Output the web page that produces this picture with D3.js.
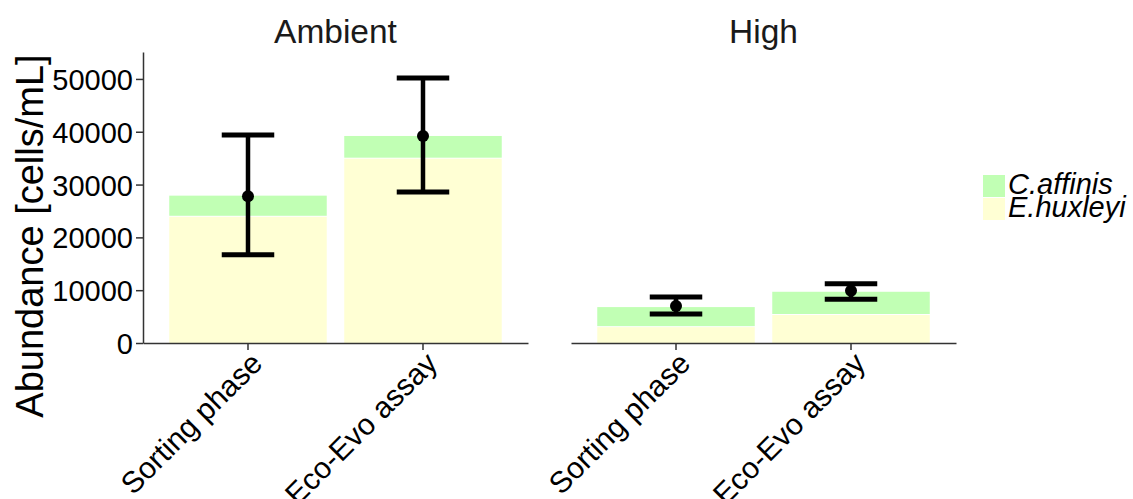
<!DOCTYPE html>
<html>
<head>
<meta charset="utf-8">
<script src="https://cdn.jsdelivr.net/npm/d3@7"></script>
<style>
  body { margin: 0; background: #fff; }
  svg { display: block; font-family: "Liberation Sans", Arial, sans-serif; }
</style>
</head>
<body>
<div class="wrapper"></div>
<script>
const width = 1133;
const height = 499;

// data
const conditions = ["Ambient", "High"];
const phases = ["Sorting phase", "Eco-Evo assay"];
const species = ["C.affinis", "E.huxleyi"];
const ehuxley = [23900, 34900, 3000, 5300];
const caffinis = [4000, 4300, 3800, 4400];
const meanTotal = [27800, 39200, 7000, 9900];
const lowerTotal = [16700, 28600, 5500, 8300];
const upperTotal = [39400, 50200, 8700, 11200];
const yTicks = [0, 10000, 20000, 30000, 40000, 50000];

const colors = { "C.affinis": "#c1ffb4", "E.huxleyi": "#ffffd4" };

const rows = [];
conditions.forEach((cond, i) => {
  phases.forEach((phase, j) => {
    const k = i * phases.length + j;
    rows.push({
      cond, phase,
      ehux: ehuxley[k], caff: caffinis[k],
      mean: meanTotal[k], lo: lowerTotal[k], hi: upperTotal[k]
    });
  });
});

const svg = d3.select(".wrapper")
  .append("svg")
  .attr("width", width)
  .attr("height", height);

const panel = d3.scaleBand()
  .domain(conditions)
  .range([143, 956])
  .paddingInner(0.1005)
  .paddingOuter(0);

const y = d3.scaleLinear().domain([0, 55100]).range([343, 52]);

const axisColor = "#333";

conditions.forEach((cond) => {
  const x0 = panel(cond);
  const x = d3.scaleBand()
    .domain(phases)
    .range([x0, x0 + panel.bandwidth()])
    .paddingInner(0.1)
    .paddingOuter(0.15);

  const g = svg.append("g");
  const data = rows.filter((r) => r.cond === cond);

  // stacked bars: E.huxleyi bottom, C.affinis on top
  g.selectAll(".ehux")
    .data(data)
    .join("rect")
    .attr("x", (d) => x(d.phase))
    .attr("width", x.bandwidth())
    .attr("y", (d) => y(d.ehux))
    .attr("height", (d) => y(0) - y(d.ehux))
    .attr("fill", colors["E.huxleyi"]);

  g.selectAll(".caff")
    .data(data)
    .join("rect")
    .attr("x", (d) => x(d.phase))
    .attr("width", x.bandwidth())
    .attr("y", (d) => y(d.ehux + d.caff))
    .attr("height", (d) => y(d.ehux) - y(d.ehux + d.caff) - 1)
    .attr("fill", colors["C.affinis"]);

  // error bars
  const cx = (d) => x(d.phase) + x.bandwidth() / 2;
  const capHalf = x.step() * 0.15;
  const eb = g.selectAll(".eb").data(data).join("g");
  eb.append("line")
    .attr("x1", cx).attr("x2", cx)
    .attr("y1", (d) => y(d.lo)).attr("y2", (d) => y(d.hi))
    .attr("stroke", "#000").attr("stroke-width", 4.5);
  eb.append("line")
    .attr("x1", (d) => cx(d) - capHalf).attr("x2", (d) => cx(d) + capHalf)
    .attr("y1", (d) => y(d.hi)).attr("y2", (d) => y(d.hi))
    .attr("stroke", "#000").attr("stroke-width", 5);
  eb.append("line")
    .attr("x1", (d) => cx(d) - capHalf).attr("x2", (d) => cx(d) + capHalf)
    .attr("y1", (d) => y(d.lo)).attr("y2", (d) => y(d.lo))
    .attr("stroke", "#000").attr("stroke-width", 5);
  eb.append("circle")
    .attr("cx", cx).attr("cy", (d) => y(d.mean))
    .attr("r", 6).attr("fill", "#000");

  // x axis
  const xAxis = g.append("g")
    .attr("transform", `translate(0,${y(0)})`)
    .call(d3.axisBottom(x).tickSize(7).tickSizeOuter(0));
  xAxis.select(".domain").attr("stroke", axisColor).attr("stroke-width", 1.5);
  xAxis.selectAll(".tick line").attr("stroke", axisColor).attr("stroke-width", 1.5);
  xAxis.selectAll(".tick text")
    .attr("font-size", 30)
    .attr("fill", "#000")
    .attr("text-anchor", "end")
    .attr("dy", 0)
    .attr("transform", "translate(9,15) rotate(-45)");

  // facet title
  svg.append("text")
    .attr("x", x0 + panel.bandwidth() / 2)
    .attr("y", 43)
    .attr("text-anchor", "middle")
    .attr("font-size", 33.5)
    .attr("fill", "#1a1a1a")
    .text(cond);
});

// y axis (first panel only)
const yAxis = svg.append("g")
  .attr("transform", `translate(${panel(conditions[0])},0)`)
  .call(d3.axisLeft(y).tickValues(yTicks).tickFormat(d3.format("d")).tickSize(7).tickSizeOuter(0));
yAxis.select(".domain").attr("stroke", axisColor).attr("stroke-width", 1.5);
yAxis.selectAll(".tick line").attr("stroke", axisColor).attr("stroke-width", 1.5);
yAxis.selectAll(".tick text")
  .attr("font-size", 29)
  .attr("fill", "#000")
  .attr("x", -10)
  .attr("dy", "0.36em");

svg.append("text")
  .attr("transform", `translate(43,236) rotate(-90)`)
  .attr("text-anchor", "middle")
  .attr("font-size", 38)
  .attr("fill", "#000")
  .text("Abundance [cells/mL]");

// legend
const legend = svg.append("g").attr("transform", "translate(983,175)");
species.forEach((s, i) => {
  legend.append("rect")
    .attr("x", 0).attr("y", i * 23)
    .attr("width", 22).attr("height", 22)
    .attr("fill", colors[s]);
  legend.append("text")
    .attr("x", 25).attr("y", i * 23 + 19)
    .attr("font-size", 29)
    .attr("font-style", "italic")
    .attr("fill", "#000")
    .text(s);
});
</script>
</body>
</html>
